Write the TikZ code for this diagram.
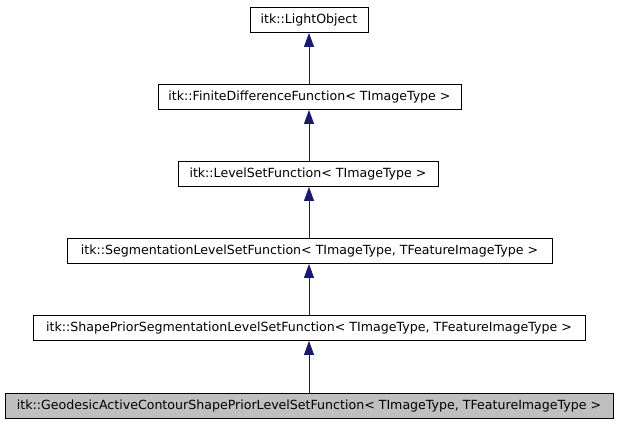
\documentclass[tikz,border=0pt]{standalone}
\usepackage{fontspec}
\setmainfont{DejaVu Sans}
\usetikzlibrary{arrows.meta}
\definecolor{edgeblue}{HTML}{191970}
\definecolor{grayfill}{HTML}{BFBFBF}
\begin{document}
\begin{tikzpicture}[x=1pt,y=-1pt,
  cls/.style={draw=black, line width=0.9pt, fill=white, inner sep=0pt, minimum height=25pt,
    font=\fontsize{12.6}{14}\selectfont},
  inh/.style={draw=edgeblue, line width=0.9pt, -{Triangle[width=10pt,length=14pt,fill=edgeblue]}}]
\useasboundingbox (0,0) rectangle (619,427);
\node[cls, minimum width=118pt] (a) at (309,20) {itk::LightObject};
\node[cls, minimum width=303pt] (b) at (309.5,97) {itk::FiniteDifferenceFunction< TImageType >};
\node[cls, minimum width=260pt] (c) at (308,174) {itk::LevelSetFunction< TImageType >};
\node[cls, minimum width=485pt] (d) at (309.5,251) {itk::SegmentationLevelSetFunction< TImageType, TFeatureImageType >};
\node[cls, minimum width=552pt] (e) at (309,328) {itk::ShapePriorSegmentationLevelSetFunction< TImageType, TFeatureImageType >};
\node[cls, minimum width=608pt, fill=grayfill] (f) at (309,406) {itk::GeodesicActiveContourShapePriorLevelSetFunction< TImageType, TFeatureImageType >};
\draw[inh] (b.north -| a.south) -- (a.south);
\draw[inh] (c.north -| a.south) -- (b.south -| a.south);
\draw[inh] (d.north -| a.south) -- (c.south -| a.south);
\draw[inh] (e.north -| a.south) -- (d.south -| a.south);
\draw[inh] (f.north -| a.south) -- (e.south -| a.south);
\end{tikzpicture}
\end{document}
